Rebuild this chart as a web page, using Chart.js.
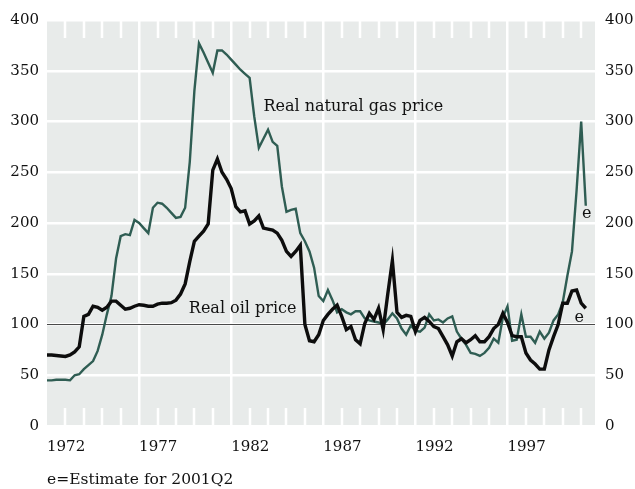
<!DOCTYPE html>
<html>
<head>
<meta charset="utf-8">
<script src="https://cdn.jsdelivr.net/npm/chart.js@4.4.1/dist/chart.umd.min.js"></script>
<style>
  html, body { margin: 0; padding: 0; background: #fff; }
  #wrap { width: 635px; height: 489px; }
</style>
</head>
<body>
<div id="wrap"><canvas id="priceChart"></canvas></div>
<script>
// quarterly index values, 1972Q1 .. 2001Q2 (last quarter is an estimate)
const startYear = 1972;
const gasPrice = [
  45, 45, 45.5, 45.5, 45.5, 45, 50, 51, 56, 60,
  64, 74, 90, 110, 128, 165, 187, 189, 188, 203,
  200, 195, 190, 215, 220, 219, 215, 210, 205, 206,
  215, 260, 330, 377, 368, 358, 348, 370, 370, 366,
  361, 356, 351, 347, 343, 305, 274, 283, 292, 280,
  276, 236, 211, 213, 214, 190, 182, 172, 156, 128,
  123, 134, 124, 112, 115, 112, 110, 113, 113, 106,
  104, 103, 102, 100, 105, 111, 106, 96, 90, 99,
  94, 93, 97, 110, 104, 105, 102, 106, 108, 93,
  86, 80, 72, 71, 69, 72, 77, 86, 82, 107,
  118, 84, 85, 110, 88, 88, 82, 93, 86, 92,
  104, 110, 122, 148, 172, 232, 300, 217
];
const oilPrice = [
  70, 70, 69.5, 69, 68.5, 70, 73, 78, 108, 110,
  118, 117, 114, 117, 123, 123, 119, 115, 116, 118,
  119.5, 119, 118, 118, 120, 121, 121, 121.5, 124, 130,
  140, 162, 182, 187, 192, 199, 252, 263, 250, 243,
  234, 216, 211, 212, 199, 202, 207, 195, 194, 193,
  190, 183, 172, 167, 172, 178, 100, 84, 83, 90,
  104, 110, 115, 119, 108, 95, 98, 85, 81, 101,
  111, 105, 116, 95, 130, 163, 112, 107, 109, 108,
  93, 104, 107, 103, 98, 96, 88, 80, 69, 83,
  86, 82, 85, 89, 83, 83, 88, 96, 100, 111,
  102, 89, 88, 88, 72, 65, 61, 56, 56, 75,
  88, 100, 121, 121, 133, 134, 121, 116
];
const yearTicks = [1972, 1977, 1982, 1987, 1992, 1997];
const valueTicks = [0, 50, 100, 150, 200, 250, 300, 350, 400];
const quarters = gasPrice.map((v, i) => startYear + i / 4);

const serif = "'DejaVu Serif', 'Liberation Serif', serif";
const gasColor = '#2f5d53';
const oilColor = '#0d0d0d';
const textColor = '#111111';

// background, year ticks, the 100 reference line and the text labels
const decorations = {
  id: 'decorations',
  beforeDraw(chart) {
    const { ctx, chartArea: a } = chart;
    ctx.save();
    ctx.fillStyle = '#e8ebea';
    ctx.fillRect(a.left, a.top, a.right - a.left, a.bottom - a.top);
    ctx.restore();
  },
  beforeDatasetsDraw(chart) {
    const { ctx, chartArea: a, scales } = chart;
    ctx.save();
    ctx.strokeStyle = '#ffffff';
    ctx.lineWidth = 2.5;
    for (let yr = startYear + 1; yr <= 2001; yr++) {
      if ((yr - startYear) % 5 === 0) continue;
      const x = Math.round(scales.x.getPixelForValue(yr));
      ctx.beginPath();
      ctx.moveTo(x, a.top);
      ctx.lineTo(x, a.top + 18);
      ctx.moveTo(x, a.bottom);
      ctx.lineTo(x, a.bottom - 18);
      ctx.stroke();
    }
    const y100 = scales.y.getPixelForValue(100);
    ctx.strokeStyle = '#4a4a4a';
    ctx.lineWidth = 1.2;
    ctx.beginPath();
    ctx.moveTo(a.left, y100);
    ctx.lineTo(a.right, y100);
    ctx.stroke();
    ctx.restore();
  },
  afterDatasetsDraw(chart) {
    const { ctx, scales } = chart;
    const px = v => scales.x.getPixelForValue(v);
    const py = v => scales.y.getPixelForValue(v);
    ctx.save();
    ctx.fillStyle = textColor;
    ctx.textBaseline = 'middle';
    ctx.font = '16px ' + serif;
    ctx.textAlign = 'left';
    ctx.fillText('Real natural gas price', px(1983.75), py(314));
    ctx.fillText('Real oil price', px(1979.7), py(115));
    ctx.textAlign = 'center';
    ctx.fillText('e', px(2001.3), py(209));
    ctx.fillText('e', px(2000.9), py(107));
    ctx.textAlign = 'left';
    ctx.font = '15.5px ' + serif;
    ctx.fillText('e=Estimate for 2001Q2', 47, 480);
    ctx.restore();
  }
};

const tickFont = { family: serif, size: 15 };

new Chart(document.getElementById('priceChart'), {
  type: 'line',
  data: {
    datasets: [
      {
        label: 'Real oil price',
        data: quarters.map((q, i) => ({ x: q, y: oilPrice[i] })),
        borderColor: oilColor,
        borderWidth: 3.4,
        pointRadius: 0,
        tension: 0,
        borderJoinStyle: 'miter',
        fill: false
      },
      {
        label: 'Real natural gas price',
        data: quarters.map((q, i) => ({ x: q, y: gasPrice[i] })),
        borderColor: gasColor,
        borderWidth: 2.4,
        pointRadius: 0,
        tension: 0,
        borderJoinStyle: 'miter',
        fill: false
      }
    ]
  },
  options: {
    responsive: true,
    maintainAspectRatio: false,
    animation: false,
    layout: { padding: { top: 20, bottom: 28, left: 0, right: 0 } },
    plugins: {
      legend: { display: false },
      tooltip: { enabled: false }
    },
    scales: {
      x: {
        type: 'linear',
        min: startYear,
        max: 2001.75,
        afterBuildTicks: scale => { scale.ticks = yearTicks.map(v => ({ value: v })); },
        afterFit: scale => { scale.height = 35; },
        ticks: {
          align: 'start',
          padding: 12,
          color: textColor,
          font: tickFont,
          maxRotation: 0,
          autoSkip: false,
          callback: v => String(v)
        },
        grid: {
          color: ctx => (ctx.tick && ctx.tick.value === startYear ? 'rgba(0,0,0,0)' : '#ffffff'),
          lineWidth: 2.5,
          drawTicks: false
        },
        border: { display: false }
      },
      y: {
        position: 'left',
        min: 0,
        max: 400,
        afterBuildTicks: scale => { scale.ticks = valueTicks.map(v => ({ value: v })); },
        afterFit: scale => { scale.width = 47; },
        ticks: { padding: 8, color: textColor, font: tickFont },
        grid: { color: '#ffffff', lineWidth: 2.5, drawTicks: false },
        border: { display: false }
      },
      y2: {
        position: 'right',
        min: 0,
        max: 400,
        afterBuildTicks: scale => { scale.ticks = valueTicks.map(v => ({ value: v })); },
        afterFit: scale => { scale.width = 40; },
        ticks: { padding: 10, color: textColor, font: tickFont },
        grid: { drawOnChartArea: false, drawTicks: false },
        border: { display: false }
      }
    }
  },
  plugins: [decorations]
});
</script>
</body>
</html>
